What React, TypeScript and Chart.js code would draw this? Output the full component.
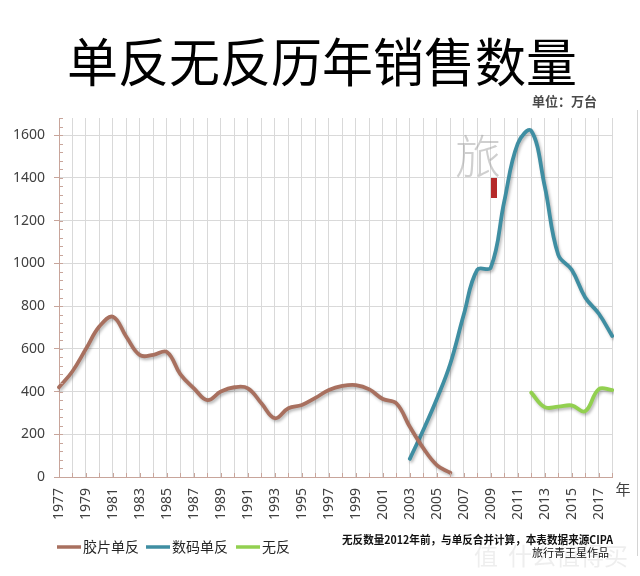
import React, { useEffect, useRef } from "react";
import { Chart, registerables } from "chart.js";

Chart.register(...registerables);

const years = [
  "1977", "1978", "1979", "1980", "1981", "1982", "1983", "1984", "1985", "1986",
  "1987", "1988", "1989", "1990", "1991", "1992", "1993", "1994", "1995", "1996",
  "1997", "1998", "1999", "2000", "2001", "2002", "2003", "2004", "2005", "2006",
  "2007", "2008", "2009", "2010", "2011", "2012", "2013", "2014", "2015", "2016",
  "2017", "2018",
];

const filmSLR = [
  420, 495, 600, 705, 750, 655, 570, 572, 585, 480,
  415, 360, 400, 420, 415, 345, 275, 322, 337, 370,
  407, 426, 430, 410, 365, 345, 235, 135, 56, 20,
  null, null, null, null, null, null, null, null, null, null,
  null, null,
];

const digitalSLR = [
  null, null, null, null, null, null, null, null, null, null,
  null, null, null, null, null, null, null, null, null, null,
  null, null, null, null, null, null, 85, 220, 365, 530,
  760, 970, 980, 1290, 1560, 1620, 1360, 1040, 970, 840,
  765, 660,
];

const mirrorless = [
  null, null, null, null, null, null, null, null, null, null,
  null, null, null, null, null, null, null, null, null, null,
  null, null, null, null, null, null, null, null, null, null,
  null, null, null, null, null, 395, 327, 329, 335, 308,
  411, 407,
];

const seriesNames = ["胶片单反", "数码单反", "无反"];
const yTickValues = [0, 200, 400, 600, 800, 1000, 1200, 1400, 1600];
const yMinorValues = [
  0, 40, 80, 120, 160, 200, 240, 280, 320, 360, 400, 440, 480, 520, 560, 600,
  640, 680, 720, 760, 800, 840, 880, 920, 960, 1000, 1040, 1080, 1120, 1160,
  1200, 1240, 1280, 1320, 1360, 1400, 1440, 1480, 1520, 1560, 1600, 1640, 1680,
];

const titleText = "单反无反历年销售数量";
const unitText = "单位：万台";
const noteText = "无反数量2012年前，与单反合并计算，本表数据来源CIPA";
const signText = "旅行青王星作品";

const AXIS = "#c8a59b";
const GRID = "#d9d9d9";
const COLORS = ["#a8705f", "#3f8ea2", "#92d050"];

const decorPlugin = {
  id: "decor",
  beforeDatasetsDraw(chart: any) {
    const ctx = chart.ctx;
    ctx.save();
    ctx.shadowColor = "rgba(0,0,0,0.28)";
    ctx.shadowBlur = 3;
    ctx.shadowOffsetX = 1.5;
    ctx.shadowOffsetY = 2;
  },
  afterDatasetsDraw(chart: any) {
    chart.ctx.restore();
  },
  afterDraw(chart: any) {
    const { ctx, chartArea } = chart;
    const x = chart.scales.x;
    const y = chart.scales.y;
    ctx.save();
    // inside tick marks
    ctx.strokeStyle = AXIS;
    ctx.lineWidth = 1;
    ctx.beginPath();
    for (let i = 0; i < years.length; i++) {
      const px = Math.round(x.getPixelForValue(i)) + 0.5;
      ctx.moveTo(px, chartArea.bottom);
      ctx.lineTo(px, chartArea.bottom - 4);
    }
    for (const v of yMinorValues) {
      const py = Math.round(y.getPixelForValue(v)) + 0.5;
      ctx.moveTo(chartArea.left, py);
      ctx.lineTo(chartArea.left + 4, py);
    }
    ctx.stroke();

    // right border of chart frame
    ctx.strokeStyle = "#d4d4d4";
    ctx.beginPath();
    ctx.moveTo(637.5, 110);
    ctx.lineTo(637.5, 556);
    ctx.stroke();

    // watermark
    ctx.fillStyle = "rgba(160,160,160,0.5)";
    ctx.font = "200 46px 'Noto Sans CJK SC'";
    ctx.textAlign = "center";
    ctx.textBaseline = "middle";
    ctx.fillText("旅", 478, 156);
    ctx.fillStyle = "#b52a2a";
    ctx.fillRect(491, 178, 6, 20);

    // title
    ctx.fillStyle = "#000";
    ctx.font = "normal 52px 'Noto Sans CJK SC'";
    ctx.textAlign = "center";
    ctx.textBaseline = "middle";
    ctx.fillText(titleText, 322, 62, 510);

    // unit
    ctx.fillStyle = "#4a4a4a";
    ctx.font = "bold 13px 'Noto Sans CJK SC'";
    ctx.textAlign = "right";
    ctx.fillText(unitText, 597, 101);

    // x axis unit
    ctx.fillStyle = "#404040";
    ctx.font = "15px 'Noto Sans CJK SC'";
    ctx.textAlign = "center";
    ctx.fillText("年", 623, 489);

    // legend
    const items = [57, 146, 236];
    chart.data.datasets.forEach((ds: any, i: number) => {
      const lx = items[i];
      ctx.strokeStyle = ds.borderColor;
      ctx.lineWidth = 3.5;
      ctx.beginPath();
      ctx.moveTo(lx, 547);
      ctx.lineTo(lx + 24, 547);
      ctx.stroke();
      ctx.fillStyle = "#262626";
      ctx.font = "14px 'Noto Sans CJK SC'";
      ctx.textAlign = "left";
      ctx.textBaseline = "middle";
      ctx.fillText(ds.label, lx + 26, 547);
    });

    // bottom-right watermark
    ctx.fillStyle = "rgba(205,205,205,0.35)";
    ctx.font = "24px 'Noto Sans CJK SC'";
    ctx.textAlign = "left";
    ctx.fillText("值", 474, 556);
    ctx.fillText("什么值得买", 508, 556);

    // note
    ctx.fillStyle = "#111";
    ctx.font = "bold 11px 'Noto Sans CJK SC'";
    ctx.textAlign = "left";
    ctx.fillText(noteText, 342, 540, 271);
    ctx.font = "11px 'Noto Sans CJK SC'";
    ctx.textAlign = "right";
    ctx.fillText(signText, 609, 553);
    ctx.restore();
  },
};

export default function App() {
  const canvasRef = useRef<HTMLCanvasElement | null>(null);

  useEffect(() => {
    if (!canvasRef.current) return;
    Chart.defaults.font.family = "'Noto Sans', 'Noto Sans CJK SC', sans-serif";
    const mk = (label: string, data: (number | null)[], color: string) => ({
      label,
      data,
      borderColor: color,
      backgroundColor: color,
      borderWidth: 3.8,
      pointRadius: 0,
      pointHoverRadius: 0,
      tension: 0.4,
      fill: false,
      spanGaps: false,
      borderCapStyle: "round" as const,
      borderJoinStyle: "round" as const,
    });
    const chart = new Chart(canvasRef.current, {
      type: "line",
      data: {
        labels: years,
        datasets: [
          mk(seriesNames[0], filmSLR, COLORS[0]),
          mk(seriesNames[1], digitalSLR, COLORS[1]),
          mk(seriesNames[2], mirrorless, COLORS[2]),
        ],
      },
      options: {
        animation: false,
        responsive: true,
        maintainAspectRatio: false,
        layout: { padding: { top: 118, right: 19, left: 0, bottom: 0 } },
        plugins: {
          legend: { display: false },
          title: { display: false },
          tooltip: { enabled: false },
        },
        scales: {
          x: {
            type: "category",
            offset: false,
            afterFit: (s: any) => {
              s.height = 99;
            },
            grid: { color: GRID, drawTicks: false },
            border: { color: AXIS, width: 1 },
            ticks: {
              autoSkip: false,
              maxRotation: 90,
              minRotation: 90,
              padding: 11,
              color: "#404040",
              font: { size: 14 },
              callback: function (this: any, val: any, idx: number) {
                return idx % 2 === 0 ? this.getLabelForValue(val) : "";
              },
            },
          },
          y: {
            min: 0,
            max: 1680,
            afterBuildTicks: (s: any) => {
              s.ticks = yTickValues.map((v) => ({ value: v }));
            },
            afterFit: (s: any) => {
              s.width = 59;
            },
            grid: { color: GRID, tickColor: AXIS, tickLength: 5 },
            border: { color: AXIS, width: 1 },
            ticks: {
              padding: 9,
              color: "#404040",
              font: { size: 14 },
              callback: (v: any) => String(v),
            },
          },
        },
      },
      plugins: [decorPlugin],
    });
    return () => chart.destroy();
  }, []);

  return (
    <div
      style={{
        position: "absolute",
        left: 0,
        top: 0,
        width: 640,
        height: 576,
        background: "#fff",
      }}
    >
      <canvas ref={canvasRef} />
    </div>
  );
}
